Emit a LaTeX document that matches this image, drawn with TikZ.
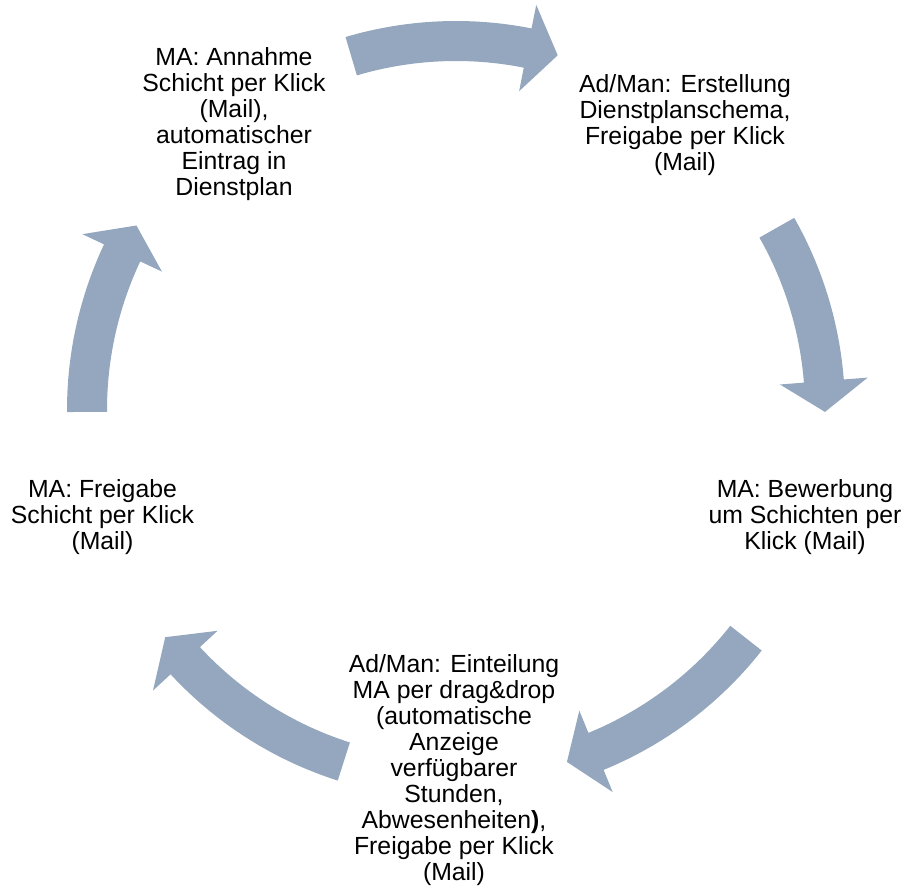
\documentclass[tikz,border=0pt]{standalone}
\usepackage{fontspec}
\setmainfont{Liberation Sans}
\definecolor{arrowgray}{RGB}{148,167,190}
\newcommand\cycarrow[2]{%
  \fill[arrowgray] (#1:389pt) arc[start angle=#1, end angle=#2+4.8, radius=389pt]
    -- (#2+4.8:413pt) -- (#2:369pt) -- (#2+4.8:325pt) -- (#2+4.8:349pt)
    arc[start angle=#2+4.8, end angle=#1, radius=349pt] -- cycle;}
\tikzset{lbl/.style={align=center, font=\fontsize{24.8}{26}\selectfont, inner sep=0pt, text=black}}
\begin{document}
\begin{tikzpicture}[x=1pt,y=1pt]
\useasboundingbox (0,0) rectangle (908,887);
\coordinate (C) at (456,477);
\begin{scope}[shift={(C)}]
  \cycarrow{106.5}{74}
  \cycarrow{29.6}{-0.3}
  \cycarrow{-38.2}{-72.5}
  \cycarrow{-107.7}{-142}
  \cycarrow{180.3}{150}
\end{scope}
\node[lbl] (tl) at (234,762.5) {MA: Annahme\\Schicht per Klick\\(Mail),\\automatischer\\Eintrag in\\Dienstplan};
\node[lbl] (tr) at (685,762) {Ad/Man: Erstellung\\Dienstplanschema,\\Freigabe per Klick\\(Mail)};
\node[lbl] (r) at (805,370) {MA: Bewerbung\\um Schichten per\\Klick (Mail)};
\node[lbl] (b) at (454,116.5) {Ad/Man: Einteilung\\MA per drag\&drop\\(automatische\\Anzeige\\verfügbarer\\Stunden,\\Abwesenheiten\textbf{)},\\Freigabe per Klick\\(Mail)};
\node[lbl] (l) at (102.5,370) {MA: Freigabe\\Schicht per Klick\\(Mail)};
\end{tikzpicture}
\end{document}
